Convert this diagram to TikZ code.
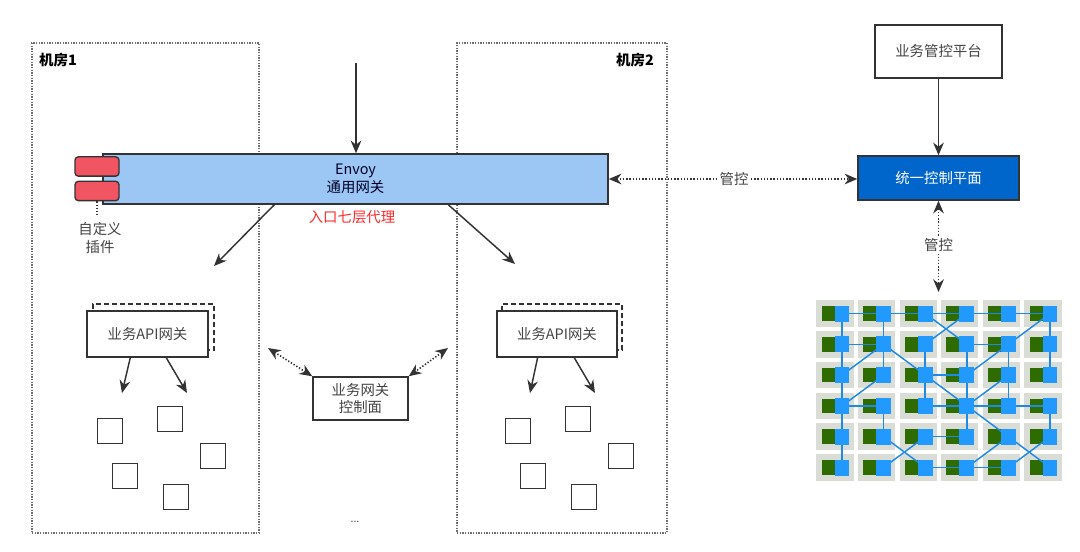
\documentclass[tikz,border=0pt]{standalone}
\usepackage{fontspec}
\setmainfont{Noto Sans CJK SC}
\usetikzlibrary{arrows.meta,calc}
\definecolor{roomgrey}{HTML}{6E6E6E}
\definecolor{envoyfill}{HTML}{9CC7F5}
\definecolor{plugfill}{HTML}{F25562}
\definecolor{ctrlfill}{HTML}{0066CC}
\definecolor{darkline}{HTML}{333333}
\definecolor{meshblue}{HTML}{2299FF}
\definecolor{meshgreen}{HTML}{2E6B00}
\definecolor{cellgrey}{HTML}{DADDD6}
\definecolor{labelred}{HTML}{FF2A2A}
\definecolor{textgrey}{HTML}{444444}
\pgfdeclarelayer{paper}
\pgfdeclarelayer{bg}
\pgfdeclarelayer{edges}
\pgfsetlayers{paper,bg,edges,main}
\begin{document}
\begin{tikzpicture}[x=0.75pt,y=-0.75pt,
  txt/.style={font=\fontsize{10.8}{13.2}\selectfont},
  room/.style={draw=roomgrey, line width=1.1pt, dash pattern=on 0.9pt off 1.1pt},
  roomlabel/.style={font=\fontsize{10.8}{13}\selectfont\bfseries, text=black},
  box/.style={draw=darkline, line width=1.1pt, fill=white, txt, text=textgrey, align=center, inner sep=0pt},
  shadowbox/.style={draw=darkline, line width=1.1pt, dash pattern=on 4pt off 2pt, inner sep=0pt},
  smallsq/.style={draw=darkline, line width=1.1pt, fill=white, minimum width=18.75pt, minimum height=18.75pt, inner sep=0pt},
  plug/.style={draw=darkline, line width=1pt, fill=plugfill, rounded corners=2.5pt, minimum width=33pt, minimum height=14.5pt, inner sep=0pt},
  arr/.style={draw=darkline, line width=1.1pt, -{Stealth[length=9.5pt,width=8pt]}},
  dotarr/.style={draw=darkline, line width=1.2pt, dash pattern=on 1pt off 1.4pt, {Stealth[length=9.5pt,width=8pt]}-{Stealth[length=9.5pt,width=8pt]}},
  bluesq/.style={fill=meshblue, minimum width=11pt, minimum height=12pt, inner sep=0pt},
  greensq/.style={fill=meshgreen, minimum width=10.5pt, minimum height=11pt, inner sep=0pt},
  meshline/.style={draw=meshblue!90!black, line width=1.1pt}
]
\begin{pgfonlayer}{paper}
\path[fill=white] (0,0) rectangle (1080,552);
\end{pgfonlayer}
\path[use as bounding box] (0,0) rectangle (1080,552);

% rooms
\node[room, minimum width=170.25pt, minimum height=367.5pt, inner sep=0pt] (room1) at (145.5,288) {};
\node[room, minimum width=157.5pt, minimum height=367.5pt, inner sep=0pt] (room2) at (562,288) {};
\node[roomlabel] (room1lbl) at (58,60) {机房1};
\node[roomlabel] (room2lbl) at (635,60) {机房2};

% envoy bar
\node[draw=darkline, line width=1.1pt, fill=envoyfill, minimum width=378.75pt, minimum height=37.5pt, inner sep=0pt,
  txt, text=black!85!blue, align=center] (envoy) at (355.5,179) {Envoy\\通用网关};
\node[plug] (plug1) at (97,166.5) {};
\node[plug] (plug2) at (97,191) {};
\coordinate (plugdot) at (97,216);
\draw[draw=darkline, line width=1.1pt, dash pattern=on 1pt off 1.4pt] (plug2.south) -- (plugdot);
\node[txt, text=textgrey, align=center] (pluglbl) at (100,238) {自定义\\插件};
\node[txt, text=labelred] (l7lbl) at (352,217) {入口七层代理};

\coordinate (intop) at (356,63);
\draw[arr] (intop) -- (envoy.north -| intop);

% API gateways
\node[shadowbox, minimum width=90.75pt, minimum height=34.5pt] (api1sh) at (153.5,327) {};
\node[box, minimum width=90.75pt, minimum height=34.5pt] (api1) at (147.5,334) {业务API网关};
\node[shadowbox, minimum width=90pt, minimum height=34.5pt] (api2sh) at (562,327) {};
\node[box, minimum width=90pt, minimum height=34.5pt] (api2) at (557,334) {业务API网关};

\coordinate (envL) at (214,266);
\coordinate (envR) at (515,264);
\draw[arr] ([xshift=129pt]envoy.south west) -- (envL);
\draw[arr] ([xshift=259.5pt]envoy.south west) -- (envR);

\coordinate (a1l) at (122,393);
\coordinate (a1r) at (187,393);
\coordinate (a2l) at (530,393);
\coordinate (a2r) at (595,393);
\draw[arr] ([xshift=33pt]api1.south west) -- (a1l);
\draw[arr] ([xshift=60pt]api1.south west) -- (a1r);
\draw[arr] ([xshift=31pt]api2.south west) -- (a2l);
\draw[arr] ([xshift=58.5pt]api2.south west) -- (a2r);

% small squares
\node[smallsq] (s11) at (110,431) {};
\node[smallsq] (s12) at (170,419) {};
\node[smallsq] (s13) at (213,456) {};
\node[smallsq] (s14) at (125,476) {};
\node[smallsq] (s15) at (176,497) {};
\node[smallsq] (s21) at (518,431) {};
\node[smallsq] (s22) at (578,419) {};
\node[smallsq] (s23) at (621,456) {};
\node[smallsq] (s24) at (533,476) {};
\node[smallsq] (s25) at (584,497) {};

% business gateway control plane
\node[box, minimum width=71.25pt, minimum height=32.25pt] (bizctl) at (360.5,398.5) {业务网关\\控制面};
\coordinate (bzl) at (268,348);
\coordinate (bzr) at (448,348);
\draw[dotarr] (bzl) -- (bizctl.north west);
\draw[dotarr] (bzr) -- (bizctl.north east);
\node[font=\fontsize{8}{9}\selectfont, text=textgrey] (dots) at (355,522) {...};

% right side
\node[box, minimum width=95.25pt, minimum height=39.75pt] (platform) at (938.5,51.5) {业务管控平台};
\node[draw=darkline, line width=1.1pt, fill=ctrlfill, minimum width=120.75pt, minimum height=33pt, inner sep=0pt,
  txt, text=white] (unified) at (938.5,178) {统一控制平面};
\draw[arr] (platform) -- (unified);
\draw[dotarr] (envoy.east) -- (envoy.east -| unified.west);
\node[txt, text=textgrey, fill=white, inner sep=1.5pt] (ctl1) at (734,179) {管控};
\coordinate (meshtop) at (938.5,292);
\draw[dotarr] (unified.south) -- (meshtop);
\node[txt, text=textgrey, fill=white, inner sep=1.5pt] (ctl2) at (938.5,245) {管控};

% service mesh
\foreach \c in {0,...,5}{
  \foreach \r in {0,...,5}{
    \pgfmathsetmacro\cx{842+41.6*\c}
    \pgfmathsetmacro\cy{313.5+30.8*\r}
    \node[bluesq] (m-\c-\r) at (\cx,\cy) {};
    \begin{pgfonlayer}{bg}
      \node[fill=cellgrey, minimum width=28pt, minimum height=20pt, inner sep=0pt] (cell-\c-\r) at (\cx-7,\cy) {};
      \node[greensq] (g-\c-\r) at (\cx-13.5,\cy) {};
    \end{pgfonlayer}
  }
}
\begin{pgfonlayer}{edges}
\foreach \a/\b/\c/\d in {0/0/1/0,1/0/2/0,2/0/3/0,3/0/4/0,4/0/5/0,
  0/0/0/1,0/1/0/2,0/2/0/3,0/3/0/4,0/4/0/5,
  1/0/1/1,1/1/1/2,1/3/1/4,
  0/1/1/1,0/2/1/1,0/3/1/2,0/3/1/3,1/1/2/2,
  2/0/3/1,3/0/2/1,2/1/2/2,2/2/2/3,2/2/3/2,2/2/3/3,
  3/1/4/1,3/1/3/2,3/2/3/3,3/3/3/4,4/1/3/2,4/1/5/0,4/1/4/2,4/2/4/3,
  5/0/5/1,5/1/5/2,3/3/4/2,2/3/3/3,3/3/4/3,4/3/5/3,3/3/4/4,5/3/5/4,
  2/4/3/4,1/4/2/5,2/4/1/5,4/4/3/5,4/4/5/5,5/4/4/5,2/5/3/5,3/5/4/5}
  \draw[meshline] (m-\a-\b.center) -- (m-\c-\d.center);
\end{pgfonlayer}
\end{tikzpicture}
\end{document}
